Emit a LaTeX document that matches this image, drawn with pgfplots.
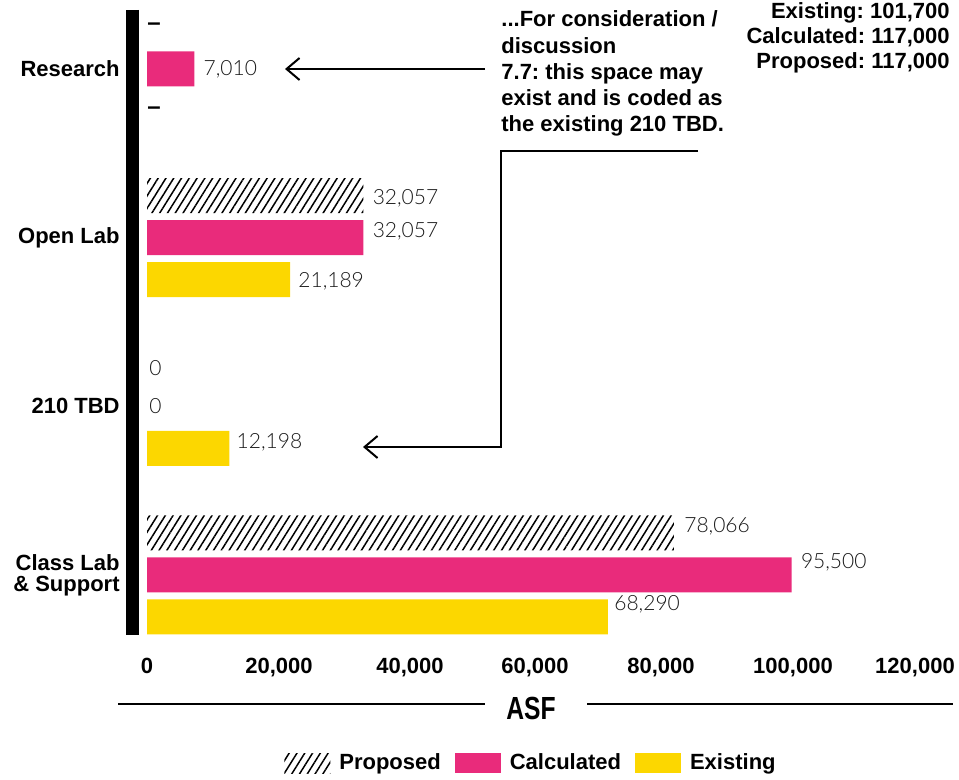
\documentclass[border=0pt]{standalone}
\usepackage{pgfplots}
\pgfplotsset{compat=1.18}
\usepackage{pgfplotstable}
\usetikzlibrary{patterns.meta,arrows.meta}
\usepackage{fontspec}
\setmainfont{Liberation Sans}
\newfontfamily\lightfont{Lato Light}
\newfontfamily\narrowfont[FakeStretch=0.77]{Liberation Sans}
\definecolor{pinkc}{RGB}{233,43,123}
\definecolor{yellc}{RGB}{252,215,0}
\newcommand\nd{{\normalfont\bfseries\fontsize{12}{13}\selectfont\color{black}–}}
\newcommand\bsz{\fontsize{11}{13}\selectfont}
\frenchspacing

% Proposed
\pgfplotstableread{
x y label dx dy
32057 2 32,057 4.5 -1.5
78066 0 78,066 5 3.5
}\proposed
\pgfplotstableread{
x y label dx dy
0 3 \nd{} 0 0
0 1 0 1 -1.75
}\proposedzero
% Calculated
\pgfplotstableread{
x y label dx dy
7010 3 7,010 4.5 0
32057 2 32,057 4.5 3
95500 0 95,500 4.5 6.25
}\calculated
\pgfplotstableread{
x y label dx dy
0 1 0 1 0
}\calculatedzero
% Existing
\pgfplotstableread{
x y label dx dy
21189 2 21,189 4 -1
12198 1 12,198 3.5 3
68290 0 68,290 3 6.25
}\existing
\pgfplotstableread{
x y label dx dy
0 3 \nd{} 0 0
}\existingzero

\begin{document}
\begin{tikzpicture}
\useasboundingbox (0,0) rectangle (479.5pt,-390pt);
\begin{axis}[
  at={(73.5pt,-5pt)}, anchor=north west,
  scale only axis, width=388.125pt, height=312.5pt,
  xmin=0, xmax=115000, ymin=-0.356, ymax=3.349,
  xbar, bar width=17.5pt,
  scaled x ticks=false,
  axis line style={draw=none}, major tick length=0pt,
  xtick={0,19556,38963,57481,76148,95704,113778},
  xticklabels={0,{20,000},{40,000},{60,000},{80,000},{100,000},{120,000}},
  xticklabel style={font=\bsz\bfseries, inner sep=0pt, anchor=north, yshift=-11.5pt},
  ytick={0,1,2,3},
  yticklabels={{Class Lab\\\& Support},{210 TBD},{Open Lab},{Research}},
  yticklabel style={font=\fontsize{11}{10.5}\selectfont\bfseries, align=right, inner sep=0pt, anchor=east, xshift=-13.5pt},
  xlabel={ASF},
  xlabel style={at={(axis description cs:0.4947,-0.1168)}, anchor=center, inner sep=0pt, font=\narrowfont\bfseries\fontsize{16}{18}\selectfont},
  nodes near coords,
  point meta=explicit symbolic,
  visualization depends on={\thisrow{dx}\as\dxv},
  visualization depends on={\thisrow{dy}\as\dyv},
  every node near coord/.append style={anchor=west, inner sep=0pt, font=\lightfont\fontsize{10.5}{12}\selectfont, text=black!90, xshift=\dxv pt, yshift=\dyv pt},
  legend columns=3,
  legend style={at={(axis description cs:0.4934,-0.2048)}, anchor=center, draw=none, fill=none, font=\bsz\bfseries, inner sep=0pt, nodes={inner sep=0pt},
    /tikz/every odd column/.append style={column sep=4.5pt},
    /tikz/every even column/.append style={column sep=7pt}},
  legend image code/.code={\fill[#1] (0pt,-5pt) rectangle (23pt,5pt);},
]
\addplot[draw=none, pattern={Lines[angle=58,distance=3.3pt,line width=0.75pt]}, pattern color=black, bar shift=21pt]
  table[x=x, y=y, meta=label]{\proposed};
\addplot[draw=none, fill=pinkc, bar shift=0pt]
  table[x=x, y=y, meta=label]{\calculated};
\addplot[draw=none, fill=yellc, bar shift=-21pt]
  table[x=x, y=y, meta=label]{\existing};
\legend{Proposed, Calculated, Existing}
% zero / missing values: labels only
\addplot[forget plot, draw=none, fill=none, bar shift=21pt]
  table[x=x, y=y, meta=label]{\proposedzero};
\addplot[forget plot, draw=none, fill=none, bar shift=0pt]
  table[x=x, y=y, meta=label]{\calculatedzero};
\addplot[forget plot, draw=none, fill=none, bar shift=-21pt]
  table[x=x, y=y, meta=label]{\existingzero};
\end{axis}
\begin{scope}[x=0.5pt, y=-0.5pt]
  \draw[line width=6.5pt] (132.5,10) -- (132.5,635);
  \draw[line width=1pt, -{Straight Barb[length=6.5pt,width=11pt,line width=1pt]}] (485,69) -- (285,69);
  \draw[line width=1pt, -{Straight Barb[length=6.5pt,width=11pt,line width=1pt]}] (698,151) -- (501,151) -- (501,447) -- (363,447);
  \draw[line width=1pt] (118,704) -- (485,704);
  \draw[line width=1pt] (587,704) -- (953,704);
  \begin{scope}[every node/.style={inner sep=0pt, font=\bsz\bfseries}]
    \node[anchor=base west] at (501,27) {...For consideration /};
    \node[anchor=base west] at (501,53.5) {discussion};
    \node[anchor=base west] at (501,80) {7.7: this space may};
    \node[anchor=base west] at (501,106) {exist and is coded as};
    \node[anchor=base west] at (501,132) {the existing 210 TBD.};
    \node[anchor=base east] at (950,18.5) {Existing: 101,700};
    \node[anchor=base east] at (950,43.5) {Calculated: 117,000};
    \node[anchor=base east] at (950,68.5) {Proposed: 117,000};
  \end{scope}
\end{scope}
\end{tikzpicture}
\end{document}
